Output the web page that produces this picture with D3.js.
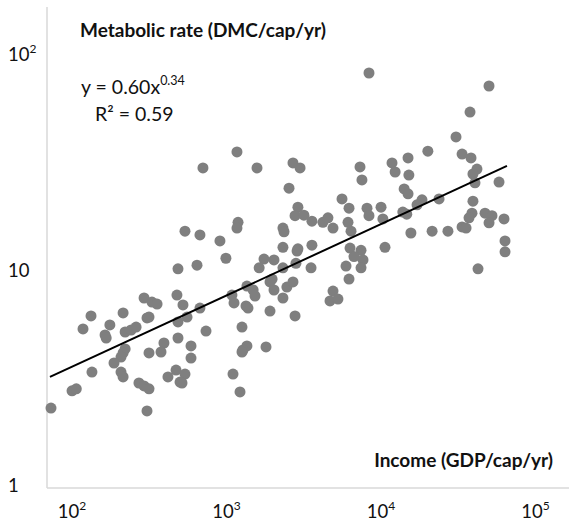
<!DOCTYPE html>
<html>
<head>
<meta charset="utf-8">
<script src="https://cdn.jsdelivr.net/npm/d3@7"></script>
<style>
  body { margin: 0; background: #fff; }
  text { font-family: Lato, "Open Sans", sans-serif; fill: #111; }
</style>
</head>
<body>
<div id="chart"></div>
<script>
// Chart size
const width = 569;
const height = 526;

// Data: income (GDP/cap/yr) and metabolic rate (DMC/cap/yr)
const income = [
  753, 1250, 1685, 2880, 3200, 2715, 8940, 53500, 40300, 32700,
  21500, 16000, 35800, 40900, 7820, 12600, 13200, 16200, 8050, 44700,
  42100, 43400, 62100, 15100, 16000, 5980, 19700, 25400, 42100, 3100,
  2970, 576, 720, 1270, 1250, 970, 2480, 2520, 2480, 3100,
  1060, 519, 689, 1870, 2170, 1740, 2480, 3010, 2110, 2045,
  2630, 2880, 2170, 2480, 1450, 1590, 1635, 1160, 1196, 1430,
  1473, 2045, 2970, 511, 559, 720, 594, 519, 313, 352,
  380, 327, 337, 229, 142, 126, 188, 236, 258, 278,
  175, 178, 788, 1347, 421, 403, 337, 236, 229, 222,
  519, 630, 630, 1450, 1367, 1347, 1927, 200, 144, 222,
  229, 504, 576, 447, 535, 551, 1178, 1308, 290, 313,
  337, 107, 114, 78.2, 327, 6640, 8680, 8940, 10700, 3390,
  3820, 4500, 4850, 5230, 6540, 6840, 11000, 14800, 15700, 18300,
  41500, 39700, 50400, 55900, 53500, 66900, 35800, 38000, 16700, 22900,
  29000, 3060, 3820, 6740, 7940, 7150, 8180, 6350, 7940, 11350,
  6640, 3770, 5230, 5000, 5630, 67900, 67900, 45400
];
const metabolic = [
  29.65, 35.2, 29.65, 31.3, 29.65, 23.9, 81.8, 71.2, 53.9, 41.3,
  35.5, 33.0, 34.4, 33.0, 30.0, 31.3, 28.4, 27.5, 26.1, 29.3,
  27.8, 25.3, 25.5, 23.7, 22.5, 21.3, 21.1, 21.3, 20.8, 19.5,
  17.8, 15.1, 14.5, 16.6, 15.6, 13.6, 15.6, 15.0, 12.7, 12.5,
  11.3, 10.1, 10.5, 11.2, 11.1, 10.2, 10.2, 10.7, 9.05, 8.77,
  8.31, 8.77, 8.05, 7.39, 8.40, 8.05, 7.55, 7.63, 7.01, 6.79,
  6.64, 6.43, 6.10, 7.63, 6.86, 6.64, 6.03, 5.72, 7.39, 7.08,
  6.93, 5.97, 6.03, 6.30, 6.10, 5.31, 5.54, 5.14, 5.25, 5.42,
  4.98, 4.82, 5.19, 5.42, 4.57, 4.15, 4.11, 4.29, 4.11, 3.93,
  4.82, 4.43, 3.89, 4.43, 4.24, 4.15, 4.38, 3.69, 3.35, 3.35,
  3.18, 3.42, 3.28, 3.18, 3.01, 2.98, 3.28, 2.71, 2.98, 2.89,
  2.80, 2.74, 2.80, 2.28, 2.21, 19.3, 19.3, 17.8, 19.5, 17.9,
  16.8, 16.6, 17.4, 15.6, 16.6, 15.1, 17.2, 18.5, 18.1, 20.0,
  18.3, 17.4, 18.3, 17.8, 16.5, 17.2, 15.8, 15.6, 14.8, 15.1,
  15.1, 12.2, 13.0, 12.6, 12.3, 11.5, 11.1, 10.4, 10.2, 12.7,
  9.05, 10.2, 7.96, 7.16, 7.31, 13.6, 12.1, 10.1
];

// Power-law trend line end points
const fitIncome = [77, 69900];
const fitMetabolic = [3.18, 30.3];

// Tick values and labels
const xTicks = [100, 1000, 10000, 100000];
const yTicks = [1, 10, 100];

const svg = d3.select("#chart")
    .append("svg")
    .attr("width", width)
    .attr("height", height);

// Log scales
const x = d3.scaleLog().domain([100, 100000]).range([67.5, 531]);
const y = d3.scaleLog().domain([1, 100]).range([485.2, 54.2]);

const axisLeftX = 47;
const axisBottomY = 488;

// Axis lines
svg.append("line")
    .attr("x1", axisLeftX).attr("x2", axisLeftX)
    .attr("y1", 7).attr("y2", axisBottomY)
    .attr("stroke", "#d9d9d9").attr("stroke-width", 1.5);
svg.append("line")
    .attr("x1", axisLeftX).attr("x2", width)
    .attr("y1", axisBottomY).attr("y2", axisBottomY)
    .attr("stroke", "#d9d9d9").attr("stroke-width", 1.5);

// Power-of-ten label with superscript
function powerLabel(sel, v) {
    const e = Math.round(Math.log10(v));
    sel.text(null);
    if (e === 0) { sel.append("tspan").text("1"); return; }
    sel.append("tspan").text("10");
    if (e > 1) {
        sel.append("tspan").attr("dy", -8).attr("font-size", 12).text(e);
    }
}

// X axis
const gx = svg.append("g")
    .attr("transform", "translate(0," + 518 + ")")
    .call(d3.axisBottom(x).tickValues(xTicks).tickSize(0).tickPadding(0));
gx.select(".domain").remove();
gx.selectAll(".tick text")
    .attr("y", 0).attr("dy", 0)
    .attr("dx", 4)
    .attr("font-size", 18.5)
    .attr("text-anchor", "middle")
    .each(function (d) { powerLabel(d3.select(this), d); });

// Y axis
const gy = svg.append("g")
    .attr("transform", "translate(8,0)")
    .call(d3.axisLeft(y).tickValues(yTicks).tickSize(0).tickPadding(0));
gy.select(".domain").remove();
gy.selectAll(".tick text")
    .attr("x", 0).attr("dy", 6.5)
    .attr("font-size", 18.5)
    .attr("text-anchor", "start")
    .each(function (d) { powerLabel(d3.select(this), d); });

svg.selectAll(".tick text").style("fill", "#111").attr("font-family", null);

// Dots
svg.append("g")
    .selectAll("circle")
    .data(income.map((v, i) => [v, metabolic[i]]))
    .enter().append("circle")
    .attr("cx", d => x(d[0]))
    .attr("cy", d => y(d[1]))
    .attr("r", 5.5)
    .attr("fill", "#7f7f7f");

// Trend line
svg.append("line")
    .attr("x1", x(fitIncome[0])).attr("y1", y(fitMetabolic[0]))
    .attr("x2", x(fitIncome[1])).attr("y2", y(fitMetabolic[1]))
    .attr("stroke", "#000").attr("stroke-width", 2);

// Titles
svg.append("text")
    .attr("x", 80).attr("y", 37)
    .attr("font-size", 19).attr("font-weight", "bold")
    .text("Metabolic rate (DMC/cap/yr)");

svg.append("text")
    .attr("x", 553).attr("y", 467)
    .attr("text-anchor", "end")
    .attr("font-size", 19).attr("font-weight", "bold")
    .text("Income (GDP/cap/yr)");

// Equation
const eq = svg.append("text")
    .attr("x", 81).attr("y", 94)
    .attr("font-size", 19.5);
eq.append("tspan").text("y = 0.60x");
eq.append("tspan").attr("dy", -9).attr("font-size", 12.5).text("0.34");

svg.append("text")
    .attr("x", 95).attr("y", 121)
    .attr("font-size", 19.5)
    .text("R² = 0.59");
</script>
</body>
</html>
